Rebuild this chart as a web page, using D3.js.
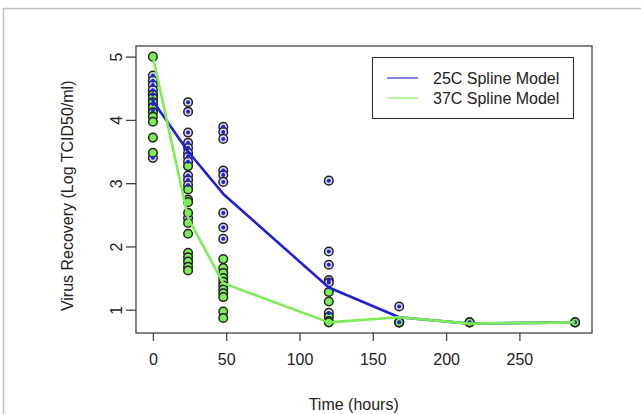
<!DOCTYPE html>
<html>
<head>
<meta charset="utf-8">
<script src="https://cdn.jsdelivr.net/npm/d3@7"></script>
<style>
  body { margin: 0; background: #fff; }
  svg text { font-family: "Liberation Sans", Arial, Helvetica, sans-serif; }
</style>
</head>
<body>
<div id="chart"></div>
<script>
// sampling times (hours)
const times = [0, 24, 48, 120, 168, 216, 288];

// observed recovery per time point, 25C
const obs25 = [
  [4.7, 4.62, 4.55, 4.47, 4.4, 4.32, 4.25, 4.15, 3.4],
  [4.28, 4.13, 3.8, 3.64, 3.56, 3.48, 3.42, 3.34, 3.12, 3.05, 2.97, 2.45],
  [3.89, 3.81, 3.7, 3.2, 3.13, 3.02, 2.53, 2.3, 2.12],
  [3.04, 1.92, 1.71, 1.47, 1.43, 0.95],
  [1.05, 0.8],
  [0.8],
  [0.8]
];
// observed recovery per time point, 37C
const obs37 = [
  [5.0, 4.4, 4.35, 4.28, 4.2, 4.12, 4.05, 3.97, 3.72, 3.48],
  [3.27, 2.9, 2.74, 2.7, 2.53, 2.37, 2.2, 1.9, 1.83, 1.76, 1.68, 1.62],
  [1.8, 1.66, 1.58, 1.5, 1.44, 1.38, 1.32, 1.26, 1.2, 0.97, 0.87],
  [1.28, 1.13, 0.89, 0.82, 0.8],
  [0.8, 0.8],
  [0.8],
  [0.8]
];

// spline model fits at each time point
const spline25 = [4.3, 3.5, 2.83, 1.35, 0.88, 0.78, 0.8];
const spline37 = [5.0, 2.45, 1.42, 0.8, 0.88, 0.78, 0.8];

const xTicks = [0, 50, 100, 150, 200, 250];
const yTicks = [1, 2, 3, 4, 5];
const legendLabels = ["25C Spline Model", "37C Spline Model"];
const lineColors = ["#1f1fd6", "#7ded55"];

const width = 641, height = 414;
const margin = {left: 136, right: 49, top: 46, bottom: 81};
const fontSize = 16;

const svg = d3.select("#chart").append("svg")
    .attr("width", width)
    .attr("height", height);

// outer frame of the figure
svg.append("rect")
    .attr("x", 3.5).attr("y", 8.5)
    .attr("width", 700).attr("height", 500)
    .attr("fill", "none")
    .attr("stroke", "#bdbdbd")
    .attr("stroke-width", 1.5);

// R style 4% padding on both scales
let x = d3.scaleLinear()
    .domain([0 - 288 * 0.04, 288 + 288 * 0.04])
    .range([margin.left, width - margin.right]);
let y = d3.scaleLinear()
    .domain([0.8 - 4.2 * 0.04, 5 + 4.2 * 0.04])
    .range([height - margin.bottom, margin.top]);

// axes
let xAxis = svg.append("g")
    .attr("transform", "translate(0," + (height - margin.bottom) + ")")
    .call(d3.axisBottom(x).tickValues(xTicks).tickSize(8).tickPadding(13).tickSizeOuter(0));
let yAxis = svg.append("g")
    .attr("transform", "translate(" + margin.left + ",0)")
    .call(d3.axisLeft(y).tickValues(yTicks).tickFormat(d3.format("d")).tickSize(10).tickSizeOuter(0));

[xAxis, yAxis].forEach(a => {
  a.select(".domain").remove();
  a.selectAll("line").attr("stroke", "#444").attr("stroke-width", 1.3);
  a.selectAll("text").attr("font-size", fontSize).attr("fill", "#222")
    .style("font-family", "'Liberation Sans', Arial, sans-serif");
});
// rotated y tick labels, R style
yAxis.selectAll(".tick text")
    .attr("x", null)
    .attr("transform", "translate(-20,0) rotate(-90)")
    .attr("y", 0)
    .attr("dy", "0.35em")
    .style("text-anchor", "middle");

// plot box
svg.append("rect")
    .attr("x", margin.left).attr("y", margin.top)
    .attr("width", width - margin.left - margin.right)
    .attr("height", height - margin.top - margin.bottom)
    .attr("fill", "none")
    .attr("stroke", "#444")
    .attr("stroke-width", 1.3);

// axis titles
svg.append("text")
    .attr("x", x(137))
    .attr("y", 410)
    .attr("text-anchor", "middle")
    .attr("font-size", fontSize)
    .attr("fill", "#222")
    .text("Time (hours)");
svg.append("text")
    .attr("transform", "translate(73," + y(2.8) + ") rotate(-90)")
    .attr("text-anchor", "middle")
    .attr("font-size", fontSize)
    .attr("fill", "#222")
    .text("Virus Recovery (Log TCID50/ml)");

// flatten observations into points
function flatten(obs, series) {
  let out = [];
  obs.forEach((vals, i) => vals.forEach(v => out.push({t: times[i], v: v, s: series})));
  return out;
}
const pts = flatten(obs25, 0).concat(flatten(obs37, 1));

// open black rings with coloured centres
svg.selectAll(".ring")
    .data(pts).enter().append("circle")
    .attr("cx", d => x(d.t))
    .attr("cy", d => y(d.v))
    .attr("r", 4.3)
    .attr("fill", d => d.s == 0 ? "#d8d8e8" : "#7ded55")
    .attr("stroke", "#222")
    .attr("stroke-width", 1.5);
svg.selectAll(".dot")
    .data(pts.filter(d => d.s == 0)).enter().append("circle")
    .attr("cx", d => x(d.t))
    .attr("cy", d => y(d.v))
    .attr("r", 2)
    .attr("fill", "#1f1fe6");

// spline lines
const line = d3.line()
    .x((d, i) => x(times[i]))
    .y(d => y(d));
[spline25, spline37].forEach((s, i) => {
  svg.append("path")
      .datum(s)
      .attr("d", line)
      .attr("fill", "none")
      .attr("stroke", lineColors[i])
      .attr("stroke-width", 2.6)
      .attr("stroke-linejoin", "round");
});

// legend
let legend = svg.append("g");
legend.append("rect")
    .attr("x", 372.5).attr("y", 57.5)
    .attr("width", 201).attr("height", 61)
    .attr("fill", "#fff")
    .attr("stroke", "#333")
    .attr("stroke-width", 1.1);
legendLabels.forEach((lab, i) => {
  legend.append("line")
      .attr("x1", 387).attr("x2", 418)
      .attr("y1", 78 + i * 20).attr("y2", 78 + i * 20)
      .attr("stroke", lineColors[i])
      .attr("stroke-opacity", 0.7)
      .attr("stroke-width", 1.6);
  legend.append("text")
      .attr("x", 433)
      .attr("y", 78 + i * 20)
      .attr("dy", "0.35em")
      .attr("font-size", fontSize)
      .attr("fill", "#222")
      .text(lab);
});
</script>
</body>
</html>
